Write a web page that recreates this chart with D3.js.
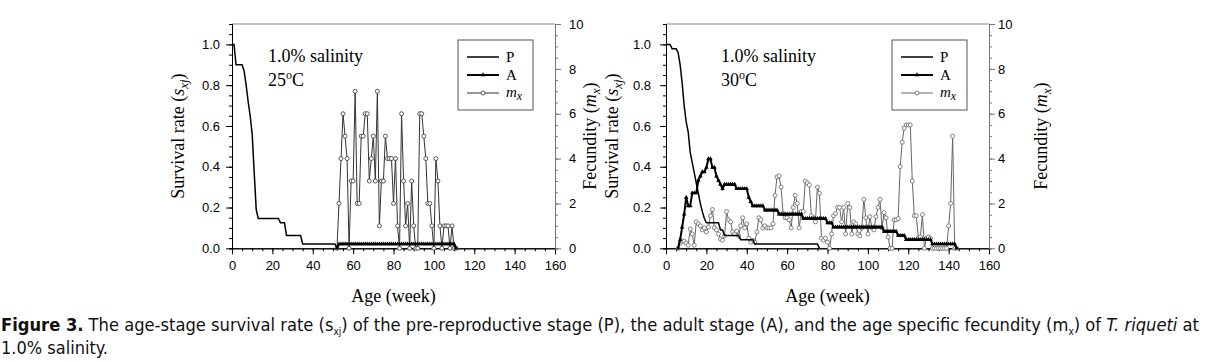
<!DOCTYPE html>
<html>
<head>
<meta charset="utf-8">
<script src="https://cdn.jsdelivr.net/npm/d3@7"></script>
<style>
  body { margin: 0; background: #fff; }
  svg { display: block; }
</style>
</head>
<body>
<div id="chart"></div>
<script>
const width = 1205
const height = 362

// tick values
const xTicks = [0, 20, 40, 60, 80, 100, 120, 140, 160]
const ySurvTicks = [0, 0.2, 0.4, 0.6, 0.8, 1.0]
const yFecTicks = [0, 2, 4, 6, 8, 10]

// ---- 1.0% salinity, 25 C ----
const p25Start = 0 // P survival, weekly from age 0
const p25 = [1, 1, 0.9, 0.9, 0.9, 0.9, 0.87, 0.8, 0.72, 0.65, 0.56, 0.37, 0.19, 0.146,
  0.146, 0.146, 0.146, 0.146, 0.146, 0.146, 0.146, 0.146, 0.146, 0.146,
  0.125, 0.125, 0.125,
  0.0625, 0.0625, 0.0625, 0.0625, 0.0625, 0.0625, 0.0625, 0.0625,
  0.021, 0.021, 0.021, 0.021, 0.021, 0.021, 0.021, 0.021, 0.021, 0.021,
  0.021, 0.021, 0.021, 0.021, 0.021, 0.021, 0.021,
  0]
const a25Start = 52 // A survival
const a25 = [0,
  0.021, 0.021, 0.021, 0.021, 0.021, 0.021, 0.021, 0.021, 0.021, 0.021,
  0.021, 0.021, 0.021, 0.021, 0.021, 0.021, 0.021, 0.021, 0.021, 0.021,
  0.021, 0.021, 0.021, 0.021, 0.021, 0.021, 0.021, 0.021, 0.021, 0.021,
  0.021, 0.021, 0.021, 0.021, 0.021, 0.021, 0.021, 0.021, 0.021, 0.021,
  0.021, 0.021, 0.021, 0.021, 0.021, 0.021, 0.021, 0.021, 0.021, 0.021,
  0.021, 0.021, 0.021, 0.021, 0.021, 0.021, 0.021, 0.021,
  0]
const m25Start = 52 // fecundity m_x
const m25 = [0,
  2, 4, 6, 5, 4, 0, 3, 3, 7, 2,
  2, 5, 5, 6, 6, 3, 4, 5, 3, 7,
  1, 3, 3, 5, 4, 4, 4, 2, 4, 1,
  0, 6, 3, 1, 2, 0, 3, 1, 0, 0,
  6, 6, 5, 4, 2, 2, 1, 0, 4, 3,
  1, 0, 1, 1, 1, 0, 1, 0, 0]

// ---- 1.0% salinity, 30 C ----
const p30Start = 0
const p30 = [1, 1, 1, 0.979, 0.979, 0.979, 0.96, 0.9, 0.81, 0.7, 0.62, 0.57, 0.47, 0.42,
  0.37, 0.32, 0.27, 0.22, 0.18, 0.146, 0.125,
  0.125, 0.125, 0.125, 0.125, 0.125, 0.125,
  0.09, 0.09,
  0.0625, 0.0625, 0.0625, 0.0625, 0.0625, 0.0625, 0.0625, 0.0625,
  0.042, 0.042, 0.042, 0.042, 0.042, 0.042, 0.042,
  0.021, 0.021, 0.021, 0.021, 0.021, 0.021, 0.021, 0.021, 0.021, 0.021,
  0.021, 0.021, 0.021, 0.021, 0.021, 0.021, 0.021, 0.021, 0.021, 0.021,
  0.021, 0.021, 0.021, 0.021, 0.021, 0.021, 0.021, 0.021, 0.021, 0.021,
  0.021, 0.021,
  0]
const a30Start = 6
const a30 = [0, 0.042, 0.104, 0.167, 0.25, 0.208, 0.208, 0.271, 0.271, 0.271,
  0.333, 0.354, 0.375, 0.375, 0.396, 0.438, 0.438, 0.396, 0.396, 0.354,
  0.333, 0.313, 0.292,
  0.313, 0.313, 0.313, 0.313, 0.313, 0.313,
  0.292, 0.292, 0.292, 0.292, 0.292, 0.292,
  0.25, 0.229,
  0.208, 0.208, 0.208, 0.208, 0.208, 0.208,
  0.1875, 0.1875, 0.1875, 0.1875, 0.1875, 0.1875, 0.1875,
  0.167, 0.167, 0.167, 0.167, 0.167, 0.167, 0.167, 0.167, 0.167, 0.167, 0.167, 0.167,
  0.146, 0.146, 0.146, 0.146, 0.146, 0.146, 0.146, 0.146, 0.146, 0.146, 0.146, 0.146,
  0.125, 0.125, 0.125,
  0.104, 0.104, 0.104, 0.104, 0.104, 0.104, 0.104, 0.104, 0.104, 0.104,
  0.104, 0.104, 0.104, 0.104, 0.104, 0.104, 0.104, 0.104, 0.104, 0.104,
  0.104, 0.104, 0.104, 0.104, 0.104,
  0.083, 0.083, 0.083, 0.083, 0.083, 0.083, 0.083,
  0.0625, 0.0625, 0.0625, 0.0625,
  0.042, 0.042, 0.042, 0.042, 0.042, 0.042, 0.042, 0.042, 0.042, 0.042, 0.042, 0.042, 0.042,
  0.021, 0.021, 0.021, 0.021, 0.021, 0.021, 0.021, 0.021, 0.021, 0.021, 0.021, 0.021,
  0]
const m30Start = 6
const m30 = [0, 0.23, 0.32, 0.32, 0.23, 0.14, 0.86, 0.64, 0.14, 1.18, // 6-15
  1.09, 1.0, 0.82, 0.91, 0.73, 0.95, 1.45, 1.73, 0.91, 0.82, // 16-25
  0.64, 0.41, 0.36, 0.55, 1.64, 1.27, 1.18, 0.73, 0.64, 0.77, // 26-35
  0.55, 1.0, 1.36, 0.91, 1.09, 0.45, 0.27, 0.36, 0.27, 0.73, // 36-45
  1.36, 1.27, 0.91, 1.0, 0.91, 0.91, 0.91, 1.09, 2.36, 3.18, // 46-55
  3.23, 2.73, 1.55, 1.36, 1.36, 1.27, 0.91, 1.82, 2.36, 2.0, // 56-65
  0.91, 1.64, 1.64, 3.0, 2.91, 2.82, 1.45, 1.36, 1.18, 2.73, // 66-75
  2.45, 0.45, 0.36, 0.45, 0.27, 0, 0.64, 1.45, 1.55, 1.82, // 76-85
  1.82, 1.18, 1.82, 0.64, 2.0, 1.82, 0.64, 1.18, 1.09, 0.64, // 86-95
  0.55, 0.91, 2.18, 1.36, 0.64, 1.41, 0.91, 0.82, 1.41, 1.82, // 96-105
  2.18, 0.91, 1.59, 1.36, 0.5, 0, 0, 1.27, 1.27, 1.32, // 106-115
  3.64, 4.73, 5.36, 5.5, 5.5, 5.5, 3.0, 1.45, 1.45, 0.45, // 116-125
  0.5, 1.5, 0, 0.45, 0.5, 0.45, 0, 0, 0, 0, // 126-135
  0, 0, 0, 0, 1.0, 2.0, 5.0, 0, 0] // 136-144

const plotW = 323
const plotTop = 24
const plotBottom = 248.3

const svg = d3.select('#chart')
  .append('svg')
  .attr('width', width)
  .attr('height', height)

const serif = '"Liberation Serif", "Times New Roman", serif'
const sans = '"Liberation Sans", Arial, sans-serif'

function toPoints (start, values) {
  return values.map((v, i) => [start + i, v])
}

function drawPanel (cfg) {
  const x = d3.scaleLinear().domain([0, 160]).range([cfg.x0, cfg.x0 + plotW])
  const yS = d3.scaleLinear().domain([0, 1.1]).range([plotBottom, plotTop])
  const yF = d3.scaleLinear().domain([0, 10]).range([plotBottom, plotTop])
  const g = svg.append('g')

  // frame top
  g.append('line')
    .attr('x1', x(0)).attr('x2', x(160))
    .attr('y1', yS(1.1)).attr('y2', yS(1.1))
    .attr('stroke', '#888').attr('stroke-width', 1)

  // minor ticks
  const minorAxis = (axis, vals) => axis.tickValues(vals).tickSize(3).tickFormat('')
  g.append('g').attr('transform', `translate(0,${plotBottom})`)
    .call(minorAxis(d3.axisBottom(x), d3.range(0, 161, 5)))
  g.append('g').attr('transform', `translate(${x(0)},0)`)
    .call(minorAxis(d3.axisLeft(yS), d3.range(0, 1.1001, 0.05)))
  g.append('g').attr('transform', `translate(${x(160)},0)`)
    .call(minorAxis(d3.axisRight(yF), d3.range(0, 10.01, 0.5)))
    .attr('class', 'rightminor')

  // major axes
  g.append('g').attr('transform', `translate(0,${plotBottom})`)
    .call(d3.axisBottom(x).tickValues(xTicks).tickSize(6).tickSizeOuter(0).tickPadding(6))
  g.append('g').attr('transform', `translate(${x(0)},0)`)
    .call(d3.axisLeft(yS).tickValues(ySurvTicks).tickFormat(d3.format('.1f'))
      .tickSize(6).tickSizeOuter(0).tickPadding(cfg.leftPad))
  const yr = g.append('g').attr('transform', `translate(${x(160)},0)`)
    .call(d3.axisRight(yF).tickValues(yFecTicks).tickSize(6).tickSizeOuter(0).tickPadding(cfg.rightPad))

  g.selectAll('.domain').attr('stroke', '#000')
  g.selectAll('.tick line').attr('stroke', '#000')
  yr.selectAll('.domain, .tick line').attr('stroke', '#777')
  g.selectAll('.rightminor .domain, .rightminor line').attr('stroke', '#777')
  g.selectAll('.tick text')
    .attr('font-family', sans).attr('font-size', 13).attr('fill', '#000')

  // series
  const line = (yScale) => d3.line().x(d => x(d[0])).y(d => yScale(d[1]))
  const mPts = toPoints(cfg.mStart, cfg.m)
  const pPts = toPoints(cfg.pStart, cfg.p)
  const aPts = toPoints(cfg.aStart, cfg.a)

  g.append('path').datum(mPts)
    .attr('d', line(yF))
    .attr('fill', 'none').attr('stroke', cfg.mColor).attr('stroke-width', 1)
  g.append('g').selectAll('circle').data(mPts).join('circle')
    .attr('cx', d => x(d[0])).attr('cy', d => yF(d[1])).attr('r', 2)
    .attr('fill', '#fff').attr('stroke', cfg.mColor).attr('stroke-width', 0.8)

  g.append('path').datum(pPts)
    .attr('d', line(yS))
    .attr('fill', 'none').attr('stroke', '#000').attr('stroke-width', 1.5)

  g.append('path').datum(aPts)
    .attr('d', line(yS))
    .attr('fill', 'none').attr('stroke', '#000').attr('stroke-width', 2)
  const tri = d3.symbol().type(d3.symbolTriangle).size(9)
  g.append('g').selectAll('path').data(aPts).join('path')
    .attr('transform', d => `translate(${x(d[0])},${yS(d[1])})`)
    .attr('d', tri).attr('fill', '#000')

  // annotation
  const ann = g.append('g').attr('font-family', serif).attr('font-size', 18).attr('fill', '#000')
  ann.append('text').attr('x', cfg.annX).attr('y', 62).text('1.0% salinity')
  const t2 = ann.append('text').attr('x', cfg.annX).attr('y', 86)
  t2.append('tspan').text(cfg.temp)
  t2.append('tspan').attr('dy', -7).attr('font-size', 12).text('o')
  t2.append('tspan').attr('dy', 7).text('C')

  // legend
  const lx = x(0) + 226
  const lg = g.append('g')
  lg.append('rect').attr('x', lx).attr('y', 40).attr('width', 75).attr('height', 70)
    .attr('fill', '#fff').attr('stroke', '#555').attr('stroke-width', 1)
  const rows = [57, 75, 93]
  lg.append('line').attr('x1', lx + 9).attr('x2', lx + 41).attr('y1', rows[0]).attr('y2', rows[0])
    .attr('stroke', '#000').attr('stroke-width', 1.5)
  lg.append('line').attr('x1', lx + 9).attr('x2', lx + 41).attr('y1', rows[1]).attr('y2', rows[1])
    .attr('stroke', '#000').attr('stroke-width', 2)
  lg.append('path').attr('transform', `translate(${lx + 25},${rows[1]})`).attr('d', tri).attr('fill', '#000')
  lg.append('line').attr('x1', lx + 9).attr('x2', lx + 41).attr('y1', rows[2]).attr('y2', rows[2])
    .attr('stroke', cfg.mColor).attr('stroke-width', 1)
  lg.append('circle').attr('cx', lx + 25).attr('cy', rows[2]).attr('r', 2)
    .attr('fill', '#fff').attr('stroke', cfg.mColor).attr('stroke-width', 0.8)
  const lt = lg.append('g').attr('font-family', serif).attr('font-size', 15).attr('fill', '#000')
  lt.append('text').attr('x', lx + 48).attr('y', rows[0] + 5).text('P')
  lt.append('text').attr('x', lx + 48).attr('y', rows[1] + 5).text('A')
  const mt = lt.append('text').attr('x', lx + 48).attr('y', rows[2] + 4).attr('font-style', 'italic')
  mt.append('tspan').text('m')
  mt.append('tspan').attr('dy', 3).attr('font-size', 12).text('x')

  // axis titles
  const titles = g.append('g').attr('font-family', serif).attr('font-size', 18).attr('fill', '#000')
  titles.append('text').attr('x', x(80)).attr('y', 302).attr('text-anchor', 'middle').text('Age (week)')
  const st = titles.append('text').attr('text-anchor', 'middle')
    .attr('transform', `translate(${x(0) - 48},${(plotTop + plotBottom) / 2}) rotate(-90)`)
  st.append('tspan').text('Survival rate (')
  st.append('tspan').attr('font-style', 'italic').text('s')
  st.append('tspan').attr('font-style', 'italic').attr('font-size', 13).attr('dy', 4).text('xj')
  st.append('tspan').attr('dy', -4).text(')')
  const ft = titles.append('text').attr('text-anchor', 'middle')
    .attr('transform', `translate(${cfg.fecX},${(plotTop + plotBottom) / 2}) rotate(-90)`)
  ft.append('tspan').text('Fecundity (')
  ft.append('tspan').attr('font-style', 'italic').text('m')
  ft.append('tspan').attr('font-style', 'italic').attr('font-size', 13).attr('dy', 4).text('x')
  ft.append('tspan').attr('dy', -4).text(')')
}

drawPanel({
  x0: 232, p: p25, pStart: p25Start, a: a25, aStart: a25Start, m: m25, mStart: m25Start,
  mColor: '#333', temp: '25', annX: 268, fecX: 596, leftPad: 6, rightPad: 8
})
drawPanel({
  x0: 666, p: p30, pStart: p30Start, a: a30, aStart: a30Start, m: m30, mStart: m30Start,
  mColor: '#666', temp: '30', annX: 721, fecX: 1047, leftPad: 9, rightPad: 3
})

// caption
const cap = svg.append('g')
  .attr('font-family', '"DejaVu Sans", sans-serif')
  .attr('font-stretch', 'condensed')
  .attr('font-size', 18).attr('fill', '#111')
const c1 = cap.append('text').attr('x', 1).attr('y', 331)
  .attr('textLength', 1198).attr('lengthAdjust', 'spacingAndGlyphs')
c1.append('tspan').attr('font-weight', 'bold').text('Figure 3.')
c1.append('tspan').text(' The age-stage survival rate (s')
c1.append('tspan').attr('font-size', 10).attr('dy', 4).text('xj')
c1.append('tspan').attr('dy', -4).text(') of the pre-reproductive stage (P), the adult stage (A), and the age specific fecundity (m')
c1.append('tspan').attr('font-size', 10).attr('dy', 4).text('x')
c1.append('tspan').attr('dy', -4).text(') of ')
c1.append('tspan').attr('font-style', 'italic').text('T. riqueti')
c1.append('tspan').text(' at')
cap.append('text').attr('x', 1).attr('y', 354).text('1.0% salinity.')
</script>
</body>
</html>
